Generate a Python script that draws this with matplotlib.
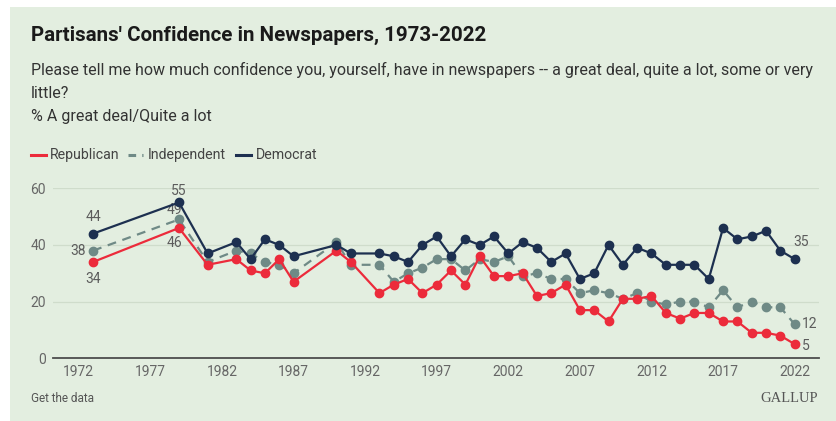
import matplotlib
matplotlib.use('Agg')
import matplotlib.pyplot as plt
from matplotlib.patches import Rectangle

# Daten
years = [1973, 1979, 1981, 1983, 1984, 1985, 1986, 1987, 1990, 1991,
         1993, 1994, 1995, 1996, 1997, 1998, 1999, 2000, 2001, 2002,
         2003, 2004, 2005, 2006, 2007, 2008, 2009, 2010, 2011, 2012,
         2013, 2014, 2015, 2016, 2017, 2018, 2019, 2020, 2021, 2022]
republican = [34, 46, 33, 35, 31, 30, 35, 27, 38, 34,
              23, 26, 28, 23, 26, 31, 26, 36, 29, 29,
              30, 22, 23, 26, 17, 17, 13, 21, 21, 22,
              16, 14, 16, 16, 13, 13, 9, 9, 8, 5]
independent = [38, 49, 34, 38, 37, 34, 33, 30, 41, 33,
               33, 27, 30, 32, 35, 35, 31, 35, 34, 36,
               29, 30, 28, 28, 23, 24, 23, 21, 23, 20,
               19, 20, 20, 18, 24, 18, 20, 18, 18, 12]
democrat = [44, 55, 37, 41, 35, 42, 40, 36, 40, 37,
            37, 36, 34, 40, 43, 36, 42, 40, 43, 37,
            41, 39, 34, 37, 28, 30, 40, 33, 39, 37,
            33, 33, 33, 28, 46, 42, 43, 45, 38, 35]
xticks = list(range(1972, 2023, 5))
yticks = [0, 20, 40, 60]

bg = '#e3eee0'
red = '#ec2b3b'
grey = '#6f8a86'
navy = '#1d3050'
textc = '#5c5c5c'

W, H = 837, 421
fig = plt.figure(figsize=(W / 100, H / 100), dpi=100, facecolor='white')
fig.patches.append(Rectangle((10 / W, 0), 1 - 10 / W, 1 - 7 / H,
                             transform=fig.transFigure, facecolor=bg,
                             edgecolor='none', zorder=-10))

ax = fig.add_axes([53 / W, 1 - 358.3 / H, (819 - 53) / W, 170 / H])
ax.set_facecolor(bg)
ax.patch.set_alpha(0)

ax.plot(years, republican, '-o', color=red, lw=1.6, ms=6, clip_on=False, zorder=4)
ax.plot(years, independent, '--o', color=grey, lw=1.6, ms=6, dashes=(4, 3),
        clip_on=False, zorder=3)
ax.plot(years, democrat, '-o', color=navy, lw=1.6, ms=6, clip_on=False, zorder=5)

ax.set_xlim(1970.2, 2023.7)
ax.set_ylim(0, 60)
ax.set_xticks(xticks)
ax.set_yticks(yticks)
ax.tick_params(length=0, labelsize=10, labelcolor='#666666')
ax.tick_params(axis='y', pad=5)
ax.tick_params(axis='x', pad=5)
for lab in ax.get_xticklabels() + ax.get_yticklabels():
    lab.set_family('Roboto')
ax.grid(axis='y', color='#cfdccb', lw=0.9)
for s in ['top', 'right', 'left']:
    ax.spines[s].set_visible(False)
ax.spines['bottom'].set_color('#4d4d4d')
ax.spines['bottom'].set_linewidth(1.3)
ax.spines['bottom'].set_zorder(6)

# Beschriftungen der Endpunkte
lab_kw = dict(fontsize=10, color=textc, family='Roboto')
ax.annotate('44', (years[0], democrat[0]), xytext=(0, 7), textcoords='offset points',
            ha='center', va='bottom', **lab_kw)
ax.annotate('38', (years[0], independent[0]), xytext=(-5, 0), textcoords='offset points',
            ha='right', va='center', **lab_kw)
ax.annotate('34', (years[0], republican[0]), xytext=(0, -7), textcoords='offset points',
            ha='center', va='top', **lab_kw)
ax.annotate('55', (years[1], democrat[1]), xytext=(0, 3), textcoords='offset points',
            ha='center', va='bottom', **lab_kw)
ax.annotate('49', (years[1], independent[1]), xytext=(-3, 2), textcoords='offset points',
            ha='center', va='bottom', **lab_kw)
ax.annotate('46', (years[1], republican[1]), xytext=(-3, -6), textcoords='offset points',
            ha='center', va='top', **lab_kw)
ax.annotate('35', (years[-1], democrat[-1]), xytext=(-1, 7), textcoords='offset points',
            ha='left', va='bottom', **lab_kw)
ax.annotate('12', (years[-1], independent[-1]), xytext=(5, 0), textcoords='offset points',
            ha='left', va='center', **lab_kw)
ax.annotate('5', (years[-1], republican[-1]), xytext=(5, -1), textcoords='offset points',
            ha='left', va='center', **lab_kw)

# Titel und Untertitel
fig.text(31 / W, 1 - 35 / H, "Partisans' Confidence in Newspapers, 1973-2022",
         fontsize=14.8, fontweight='bold', family='Roboto', color='#1a1a1a', va='center')
sub_kw = dict(fontsize=11.5, family='Roboto', color='#333333', va='center')
fig.text(31 / W, 1 - 70 / H, 'Please tell me how much confidence you, yourself, have in newspapers '
         '-- a great deal, quite a lot, some or very', **sub_kw)
fig.text(31 / W, 1 - 93 / H, 'little?', **sub_kw)
fig.text(31 / W, 1 - 116 / H, '% A great deal/Quite a lot', **sub_kw)

# Legende
leg_y = 1 - 155 / H
items = [('Republican', red, '-', 31, 50), ('Independent', grey, '--', 128, 148),
         ('Democrat', navy, '-', 236, 256)]
for name, col, ls, l0, x0 in items:
    line = plt.Line2D([l0 / W, (l0 + 15) / W], [leg_y, leg_y], color=col, lw=2.2)
    if ls == '--':
        line.set_dashes((2.5, 2))
    fig.add_artist(line)
    fig.text(x0 / W, leg_y, name, fontsize=10.2, family='Roboto', color='#444444', va='center')

# Fusszeile
fig.text(31 / W, 1 - 398 / H, 'Get the data', fontsize=8.5, family='Roboto',
         color='#555555', va='center')
fig.text(818 / W, 1 - 398 / H, 'GALLUP', fontsize=10.5, family='Liberation Serif',
         color='#555555', va='center', ha='right')

fig.savefig('out.png', dpi=100, facecolor='white')
